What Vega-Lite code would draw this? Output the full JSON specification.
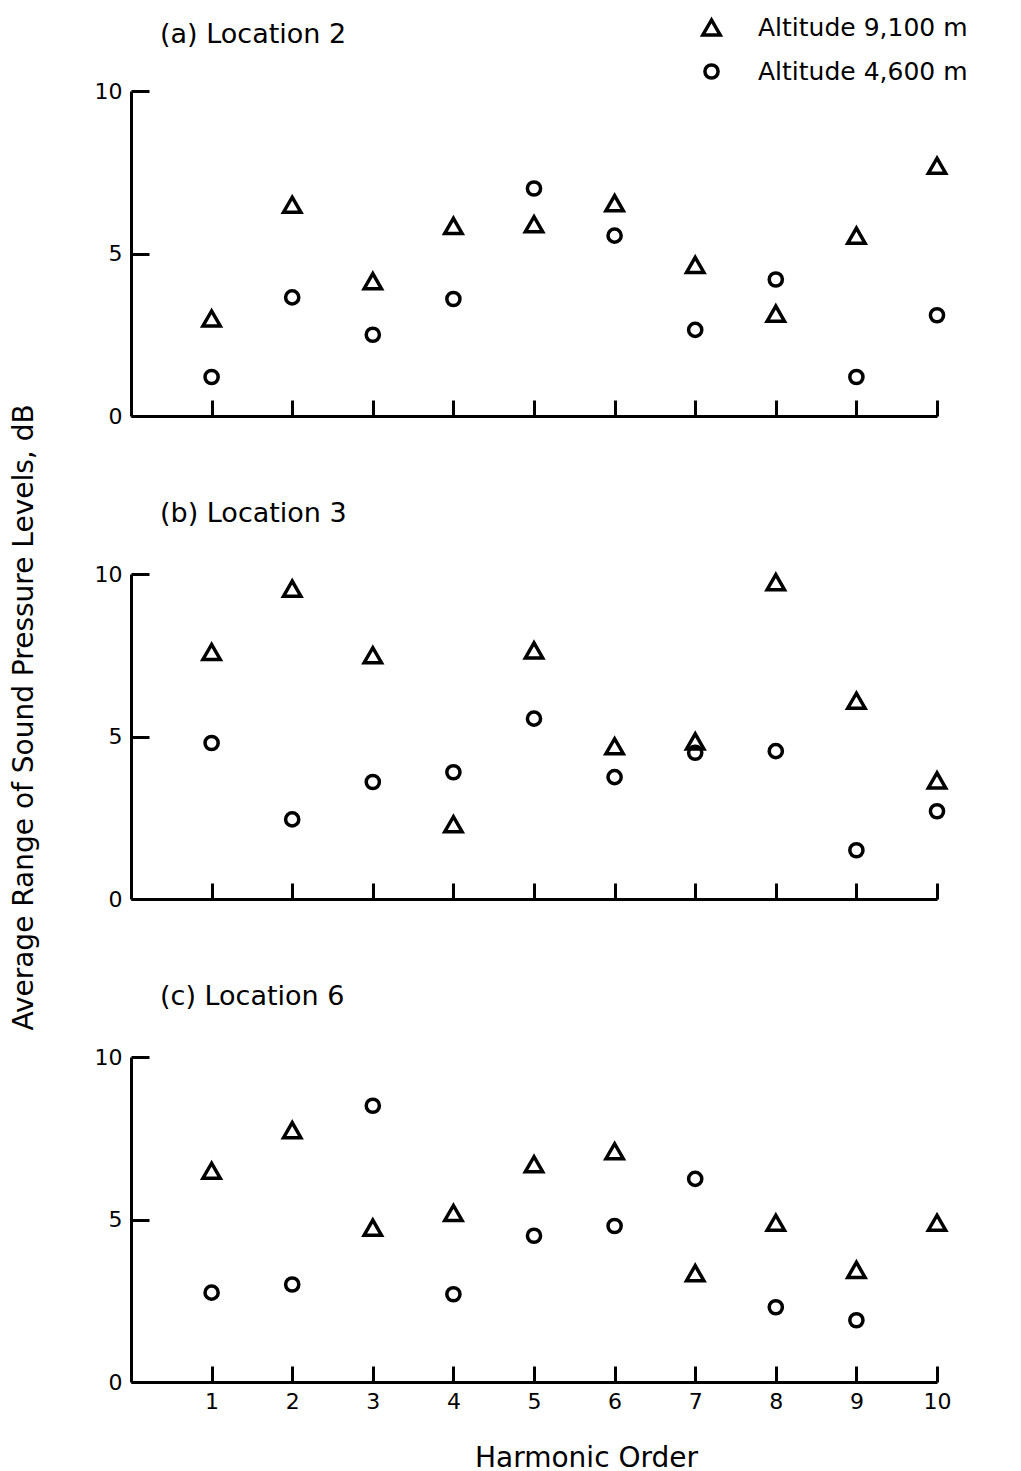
{
  "$schema": "https://vega.github.io/schema/vega-lite/v6.json",
  "background": "white",
  "padding": {"left": 10, "top": 15, "right": 5, "bottom": 5},
  "bounds": "flush",
  "spacing": 158,
  "config": {
    "font": "DejaVu Sans",
    "view": {"stroke": null},
    "axis": {
      "domainColor": "black", "domainWidth": 3, "tickColor": "black", "tickWidth": 3,
      "labelColor": "black", "labelFont": "DejaVu Sans", "grid": false, "titleColor": "black",
      "titleFont": "DejaVu Sans", "titleFontWeight": "normal", "labelFlush": false
    },
    "title": {"font": "DejaVu Sans", "fontWeight": "normal", "color": "black", "fontSize": 27, "anchor": "start", "frame": "group"}
  },
  "data": {
    "values": [
      {"loc": "a", "h": 1, "alt": "Altitude 9,100 m", "v": 3.0},
      {"loc": "a", "h": 2, "alt": "Altitude 9,100 m", "v": 6.5},
      {"loc": "a", "h": 3, "alt": "Altitude 9,100 m", "v": 4.15},
      {"loc": "a", "h": 4, "alt": "Altitude 9,100 m", "v": 5.85},
      {"loc": "a", "h": 5, "alt": "Altitude 9,100 m", "v": 5.9},
      {"loc": "a", "h": 6, "alt": "Altitude 9,100 m", "v": 6.55},
      {"loc": "a", "h": 7, "alt": "Altitude 9,100 m", "v": 4.65},
      {"loc": "a", "h": 8, "alt": "Altitude 9,100 m", "v": 3.15},
      {"loc": "a", "h": 9, "alt": "Altitude 9,100 m", "v": 5.55},
      {"loc": "a", "h": 10, "alt": "Altitude 9,100 m", "v": 7.7},
      {"loc": "a", "h": 1, "alt": "Altitude 4,600 m", "v": 1.2},
      {"loc": "a", "h": 2, "alt": "Altitude 4,600 m", "v": 3.65},
      {"loc": "a", "h": 3, "alt": "Altitude 4,600 m", "v": 2.5},
      {"loc": "a", "h": 4, "alt": "Altitude 4,600 m", "v": 3.6},
      {"loc": "a", "h": 5, "alt": "Altitude 4,600 m", "v": 7.0},
      {"loc": "a", "h": 6, "alt": "Altitude 4,600 m", "v": 5.55},
      {"loc": "a", "h": 7, "alt": "Altitude 4,600 m", "v": 2.65},
      {"loc": "a", "h": 8, "alt": "Altitude 4,600 m", "v": 4.2},
      {"loc": "a", "h": 9, "alt": "Altitude 4,600 m", "v": 1.2},
      {"loc": "a", "h": 10, "alt": "Altitude 4,600 m", "v": 3.1},
      {"loc": "b", "h": 1, "alt": "Altitude 9,100 m", "v": 7.6},
      {"loc": "b", "h": 2, "alt": "Altitude 9,100 m", "v": 9.55},
      {"loc": "b", "h": 3, "alt": "Altitude 9,100 m", "v": 7.5},
      {"loc": "b", "h": 4, "alt": "Altitude 9,100 m", "v": 2.3},
      {"loc": "b", "h": 5, "alt": "Altitude 9,100 m", "v": 7.65},
      {"loc": "b", "h": 6, "alt": "Altitude 9,100 m", "v": 4.7},
      {"loc": "b", "h": 7, "alt": "Altitude 9,100 m", "v": 4.85},
      {"loc": "b", "h": 8, "alt": "Altitude 9,100 m", "v": 9.75},
      {"loc": "b", "h": 9, "alt": "Altitude 9,100 m", "v": 6.1},
      {"loc": "b", "h": 10, "alt": "Altitude 9,100 m", "v": 3.65},
      {"loc": "b", "h": 1, "alt": "Altitude 4,600 m", "v": 4.8},
      {"loc": "b", "h": 2, "alt": "Altitude 4,600 m", "v": 2.45},
      {"loc": "b", "h": 3, "alt": "Altitude 4,600 m", "v": 3.6},
      {"loc": "b", "h": 4, "alt": "Altitude 4,600 m", "v": 3.9},
      {"loc": "b", "h": 5, "alt": "Altitude 4,600 m", "v": 5.55},
      {"loc": "b", "h": 6, "alt": "Altitude 4,600 m", "v": 3.75},
      {"loc": "b", "h": 7, "alt": "Altitude 4,600 m", "v": 4.5},
      {"loc": "b", "h": 8, "alt": "Altitude 4,600 m", "v": 4.55},
      {"loc": "b", "h": 9, "alt": "Altitude 4,600 m", "v": 1.5},
      {"loc": "b", "h": 10, "alt": "Altitude 4,600 m", "v": 2.7},
      {"loc": "c", "h": 1, "alt": "Altitude 9,100 m", "v": 6.5},
      {"loc": "c", "h": 2, "alt": "Altitude 9,100 m", "v": 7.75},
      {"loc": "c", "h": 3, "alt": "Altitude 9,100 m", "v": 4.75},
      {"loc": "c", "h": 4, "alt": "Altitude 9,100 m", "v": 5.2},
      {"loc": "c", "h": 5, "alt": "Altitude 9,100 m", "v": 6.7},
      {"loc": "c", "h": 6, "alt": "Altitude 9,100 m", "v": 7.1},
      {"loc": "c", "h": 7, "alt": "Altitude 9,100 m", "v": 3.35},
      {"loc": "c", "h": 8, "alt": "Altitude 9,100 m", "v": 4.9},
      {"loc": "c", "h": 9, "alt": "Altitude 9,100 m", "v": 3.45},
      {"loc": "c", "h": 10, "alt": "Altitude 9,100 m", "v": 4.9},
      {"loc": "c", "h": 1, "alt": "Altitude 4,600 m", "v": 2.75},
      {"loc": "c", "h": 2, "alt": "Altitude 4,600 m", "v": 3.0},
      {"loc": "c", "h": 3, "alt": "Altitude 4,600 m", "v": 8.5},
      {"loc": "c", "h": 4, "alt": "Altitude 4,600 m", "v": 2.7},
      {"loc": "c", "h": 5, "alt": "Altitude 4,600 m", "v": 4.5},
      {"loc": "c", "h": 6, "alt": "Altitude 4,600 m", "v": 4.8},
      {"loc": "c", "h": 7, "alt": "Altitude 4,600 m", "v": 6.25},
      {"loc": "c", "h": 8, "alt": "Altitude 4,600 m", "v": 2.3},
      {"loc": "c", "h": 9, "alt": "Altitude 4,600 m", "v": 1.9}
    ]
  },
  "vconcat": [
    {
      "width": 806, "height": 325,
      "title": {"text": "(a) Location 2", "dx": 29, "offset": 31},
      "transform": [{"filter": "datum.loc == 'a'"}],
      "mark": {"type": "point", "filled": false, "strokeWidth": 3.5, "color": "black", "opacity": 1, "size": 300},
      "encoding": {
        "x": {"field": "h", "type": "quantitative", "scale": {"domain": [0, 10], "nice": false, "zero": false},
              "axis": {"values": [1,2,3,4,5,6,7,8,9,10], "labels": false, "title": null, "tickSize": -16}},
        "y": {"field": "v", "type": "quantitative", "scale": {"domain": [0, 10], "nice": false},
              "axis": {"values": [0, 5, 10], "tickSize": -18, "labelFontSize": 22, "labelPadding": 27,
                       "title": "Average Range of Sound Pressure Levels, dB", "titleFontSize": 28,
                       "titleX": -107, "titleY": 626, "titleAngle": -90, "titleAlign": "center", "titleBaseline": "middle"}},
        "shape": {"field": "alt", "type": "nominal",
                  "scale": {"domain": ["Altitude 9,100 m", "Altitude 4,600 m"],
                            "range": ["triangle-up", "M-0.76,0A0.76,0.76,0,1,0,0.76,0A0.76,0.76,0,1,0,-0.76,0Z"]},
                  "legend": {"orient": "none", "legendX": 568, "legendY": -76, "title": null, "labelFontSize": 25,
                             "labelColor": "black", "labelFont": "DejaVu Sans", "labelOffset": 34, "labelLimit": 0,
                             "rowPadding": 15, "symbolStrokeWidth": 3.5, "symbolSize": 300, "symbolStrokeColor": "black",
                             "symbolFillColor": "transparent", "padding": 0}}
      }
    },
    {
      "width": 806, "height": 325,
      "title": {"text": "(b) Location 3", "dx": 29, "offset": 35},
      "transform": [{"filter": "datum.loc == 'b'"}],
      "mark": {"type": "point", "filled": false, "strokeWidth": 3.5, "color": "black", "opacity": 1, "size": 300},
      "encoding": {
        "x": {"field": "h", "type": "quantitative", "scale": {"domain": [0, 10], "nice": false, "zero": false},
              "axis": {"values": [1,2,3,4,5,6,7,8,9,10], "labels": false, "title": null, "tickSize": -16}},
        "y": {"field": "v", "type": "quantitative", "scale": {"domain": [0, 10], "nice": false},
              "axis": {"values": [0, 5, 10], "tickSize": -18, "labelFontSize": 22, "labelPadding": 27, "title": null}},
        "shape": {"field": "alt", "type": "nominal",
                  "scale": {"domain": ["Altitude 9,100 m", "Altitude 4,600 m"],
                            "range": ["triangle-up", "M-0.76,0A0.76,0.76,0,1,0,0.76,0A0.76,0.76,0,1,0,-0.76,0Z"]}}
      }
    },
    {
      "width": 806, "height": 325,
      "title": {"text": "(c) Location 6", "dx": 29, "offset": 35},
      "transform": [{"filter": "datum.loc == 'c'"}],
      "mark": {"type": "point", "filled": false, "strokeWidth": 3.5, "color": "black", "opacity": 1, "size": 300},
      "encoding": {
        "x": {"field": "h", "type": "quantitative", "scale": {"domain": [0, 10], "nice": false, "zero": false},
              "axis": {"values": [1,2,3,4,5,6,7,8,9,10], "labelFontSize": 22, "labelPadding": 25, "tickSize": -16,
                       "title": "Harmonic Order", "titleFontSize": 28, "titleX": 455, "titleY": 76,
                       "titleAlign": "center", "titleBaseline": "middle"}},
        "y": {"field": "v", "type": "quantitative", "scale": {"domain": [0, 10], "nice": false},
              "axis": {"values": [0, 5, 10], "tickSize": -18, "labelFontSize": 22, "labelPadding": 27, "title": null}},
        "shape": {"field": "alt", "type": "nominal",
                  "scale": {"domain": ["Altitude 9,100 m", "Altitude 4,600 m"],
                            "range": ["triangle-up", "M-0.76,0A0.76,0.76,0,1,0,0.76,0A0.76,0.76,0,1,0,-0.76,0Z"]}}
      }
    }
  ]
}
